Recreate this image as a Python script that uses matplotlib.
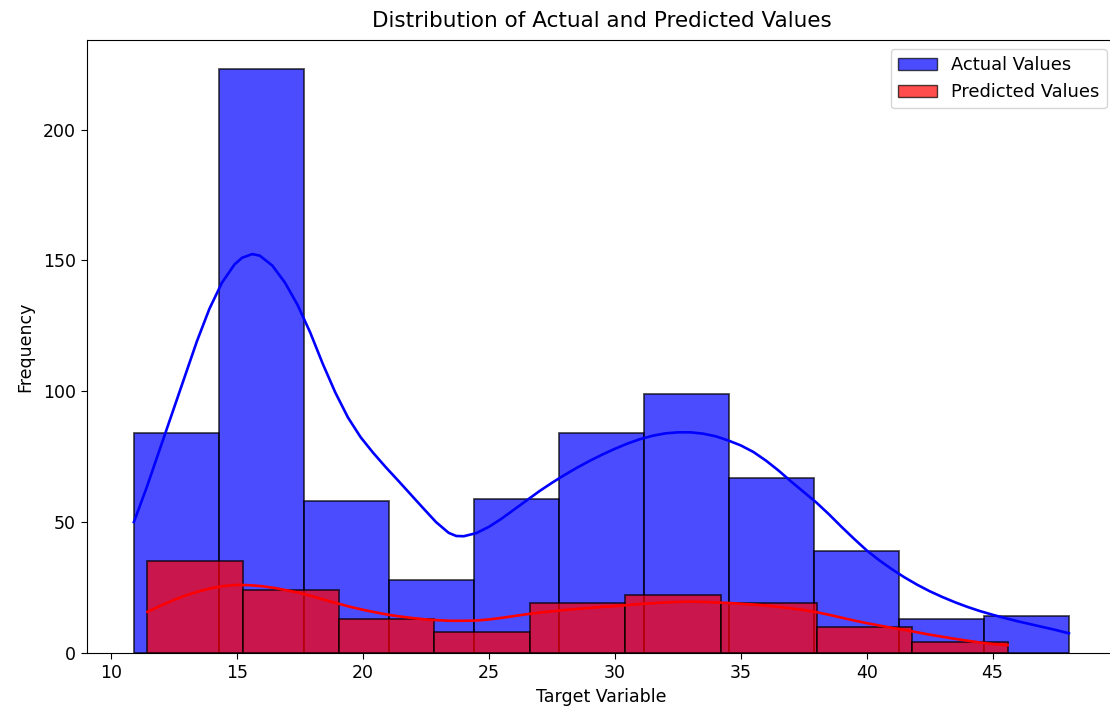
import numpy as np
import matplotlib
matplotlib.use("Agg")
import matplotlib.pyplot as plt
from matplotlib.patches import Patch

# Histogram data
actual_edges = np.linspace(10.90, 48.03, 12)
actual_counts = [84, 223, 58, 28, 59, 84, 99, 67, 39, 13, 14]
pred_edges = np.linspace(11.44, 45.60, 10)
pred_counts = [35, 24, 13, 8, 19, 22, 19, 10, 4]

# KDE curves
actual_kde_x = [10.9, 11.4, 11.9, 12.4, 12.9, 13.4, 13.9, 14.4, 14.9, 15.2, 15.6, 15.9,
                16.4, 16.9, 17.4, 17.9, 18.4, 18.9, 19.4, 19.9, 20.4, 20.9, 21.4, 21.9,
                22.4, 22.9, 23.4, 23.7, 24.0, 24.5, 25.0, 25.5, 26.0, 26.5, 27.0, 27.5,
                28.0, 28.5, 29.0, 29.5, 30.0, 30.5, 31.0, 31.5, 32.0, 32.5, 33.0, 33.5,
                34.0, 34.5, 35.0, 35.5, 36.0, 36.5, 37.0, 37.5, 38.0, 38.5, 39.0, 39.5,
                40.0, 40.5, 41.0, 41.5, 42.0, 42.5, 43.0, 43.5, 44.0, 44.5, 45.0, 45.5,
                46.0, 46.5, 47.0, 47.5, 48.03]
actual_kde_y = [50, 63, 77, 91, 105, 119, 131.5, 141.5, 148.5, 151, 152.4, 151.8,
                148, 141.5, 133, 122.5, 110.5, 99.5, 90, 82.5, 76.5, 71, 65.8, 60.5,
                55.2, 50, 45.9, 44.7, 44.6, 45.8, 48.2, 51.3, 54.8, 58.3, 61.8, 65,
                68, 70.8, 73.4, 75.8, 78, 80, 81.7, 83, 83.9, 84.3, 84.3, 83.8,
                82.8, 81.2, 79.3, 76.8, 73.5, 69.7, 65.5, 61.5, 57.5, 53, 48.2, 43.6,
                39.2, 35.4, 32, 28.9, 26.1, 23.6, 21.4, 19.4, 17.6, 16, 14.6, 13.3,
                12.1, 11, 9.9, 8.8, 7.5]
pred_kde_x = [11.44, 12.0, 12.5, 13.0, 13.5, 14.0, 14.5, 15.0, 15.5, 16.0, 16.5, 17.0,
              17.5, 18.0, 18.5, 19.0, 19.5, 20.0, 20.5, 21.0, 21.5, 22.0, 22.5, 23.0,
              23.5, 24.0, 24.5, 25.0, 25.5, 26.0, 26.5, 27.0, 27.5, 28.0, 28.5, 29.0,
              29.5, 30.0, 30.5, 31.0, 31.5, 32.0, 32.5, 33.0, 33.5, 34.0, 34.5, 35.0,
              35.5, 36.0, 36.5, 37.0, 37.5, 38.0, 38.5, 39.0, 39.5, 40.0, 40.5, 41.0,
              41.5, 42.0, 42.5, 43.0, 43.5, 44.0, 44.5, 45.0, 45.6]
pred_kde_y = [15.7, 18.2, 20.3, 22.1, 23.6, 24.8, 25.6, 26.0, 25.9, 25.5, 24.8, 23.9,
              22.9, 21.6, 20.2, 18.9, 17.6, 16.5, 15.5, 14.6, 13.9, 13.3, 12.8, 12.5,
              12.3, 12.3, 12.4, 12.8, 13.4, 14.1, 14.8, 15.4, 15.9, 16.4, 16.8, 17.2,
              17.6, 17.9, 18.3, 18.7, 19.0, 19.3, 19.5, 19.6, 19.5, 19.3, 19.1, 18.8,
              18.5, 18.1, 17.6, 17.0, 16.4, 15.6, 14.6, 13.5, 12.4, 11.4, 10.5, 9.6,
              8.8, 7.9, 7.0, 6.2, 5.4, 4.7, 4.0, 3.4, 3.0]

fig = plt.figure(figsize=(11.10, 7.13), dpi=100)
ax = fig.add_axes([0.0784, 0.0842, 0.927, 0.8597])

fs = 12.5
ax.bar(actual_edges[:-1], actual_counts, width=np.diff(actual_edges), align='edge',
       color='blue', alpha=0.7, edgecolor='black', linewidth=1.3)
ax.plot(actual_kde_x, actual_kde_y, color='blue', lw=1.9, solid_joinstyle='round')
ax.bar(pred_edges[:-1], pred_counts, width=np.diff(pred_edges), align='edge',
       color='red', alpha=0.7, edgecolor='black', linewidth=1.3)
ax.plot(pred_kde_x, pred_kde_y, color='red', lw=1.9, solid_joinstyle='round')

ax.set_xlim(9.04, 49.9)
ax.set_ylim(0, 234.2)
ax.set_xticks([10, 15, 20, 25, 30, 35, 40, 45])
ax.set_yticks([0, 50, 100, 150, 200])
ax.tick_params(labelsize=fs, length=4.5)

ax.set_xlabel("Target Variable", fontsize=fs)
ax.set_ylabel("Frequency", fontsize=fs, labelpad=6)
ax.set_title("Distribution of Actual and Predicted Values", fontsize=15.5, pad=9)

handles = [Patch(facecolor='blue', edgecolor='black', alpha=0.7, label='Actual Values'),
           Patch(facecolor='red', edgecolor='black', alpha=0.7, label='Predicted Values')]
ax.legend(handles=handles, loc='upper right', fontsize=12.9, handlelength=2.2,
          bbox_to_anchor=(1.0, 1.0))

fig.savefig("out.png", dpi=100)
